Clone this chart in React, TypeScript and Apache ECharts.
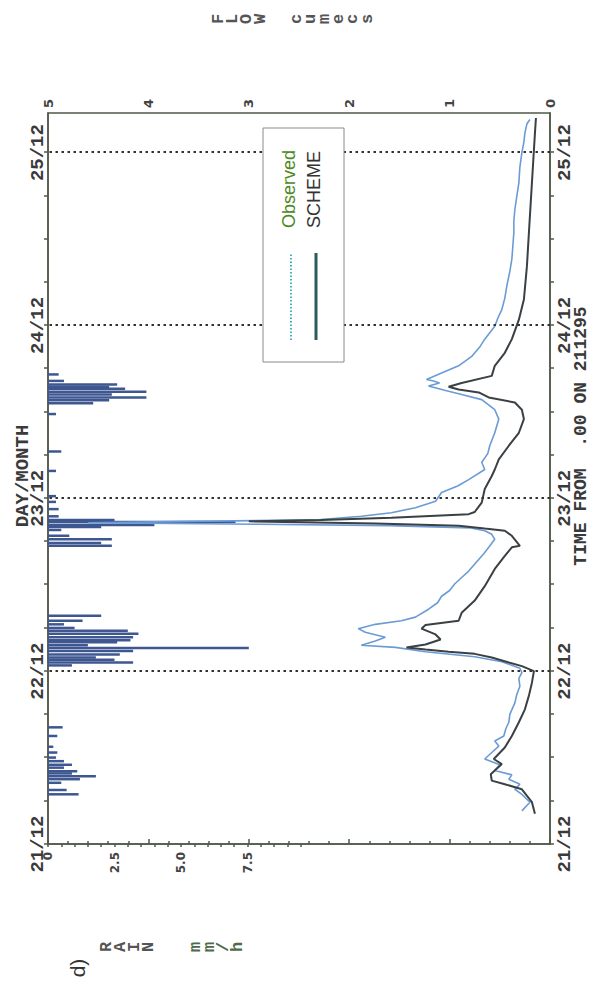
import React, { useEffect, useRef } from "react";
import * as echarts from "echarts";

// ---- data (hours after 21/12 00:00) ----
const dayLabels = ["21/12", "22/12", "23/12", "24/12", "25/12"];
const rainTickLabels = ["0", "2.5", "5.0", "7.5"];

const obsHours = [4.6, 5.8, 6.9, 7.6, 8.3, 9.0, 9.6, 10.2, 11.0, 11.8, 12.7, 13.6, 14.3, 15.0, 16.0, 16.9, 18.0, 19.6, 20.8, 21.9, 23.0, 23.8, 24.4, 25.3, 26.0, 26.7, 27.3, 27.6, 28.2, 28.7, 29.4, 29.9, 30.5, 31.0, 31.5, 32.6, 33.5, 34.4, 35.2, 36.1, 37.0, 37.9, 38.7, 39.5, 40.3, 41.2, 42.3, 43.0, 43.5, 43.9, 44.2, 44.4, 44.6, 44.8, 45.0, 45.5, 46.0, 46.7, 47.6, 48.8, 49.7, 50.6, 52.0, 53.0, 54.2, 55.3, 57.1, 59.0, 60.3, 61.7, 62.4, 63.0, 63.6, 64.0, 64.3, 64.5, 65.4, 66.4, 67.7, 69.0, 70.1, 71.9, 73.0, 74.2, 75.8, 77.5, 79.5, 81.2, 83.0, 84.9, 86.5, 88.1, 90.0, 91.8, 94.0, 96.0, 97.5, 98.7, 100.0, 100.6];
const obsFlow = [0.28, 0.20, 0.28, 0.35, 0.30, 0.41, 0.38, 0.55, 0.50, 0.65, 0.58, 0.51, 0.55, 0.46, 0.44, 0.41, 0.40, 0.35, 0.33, 0.30, 0.31, 0.28, 0.30, 0.48, 0.75, 1.24, 1.54, 1.88, 1.74, 1.64, 1.84, 1.91, 1.74, 1.48, 1.34, 1.21, 1.12, 1.08, 1.00, 0.95, 0.88, 0.81, 0.76, 0.71, 0.66, 0.61, 0.55, 0.58, 0.65, 0.80, 1.6, 2.9, 4.6, 3.6, 2.31, 1.88, 1.58, 1.34, 1.14, 1.08, 0.92, 0.81, 0.65, 0.68, 0.62, 0.60, 0.55, 0.51, 0.55, 0.68, 0.88, 1.05, 1.21, 1.10, 1.16, 1.23, 1.08, 0.91, 0.78, 0.70, 0.65, 0.55, 0.52, 0.48, 0.45, 0.43, 0.40, 0.38, 0.37, 0.36, 0.36, 0.35, 0.33, 0.31, 0.30, 0.28, 0.26, 0.25, 0.23, 0.20];

const schemeHours = [4.2, 5.8, 7.6, 8.3, 8.8, 9.7, 11.1, 11.8, 13.4, 15.0, 16.9, 18.7, 20.6, 22.4, 24.0, 24.7, 25.2, 25.9, 26.4, 26.7, 27.0, 27.3, 27.7, 28.4, 29.1, 29.9, 30.4, 31.0, 32.1, 33.8, 35.8, 38.2, 40.0, 41.2, 41.4, 42.8, 43.5, 43.8, 44.2, 44.5, 44.8, 45.0, 45.3, 45.8, 46.1, 47.4, 49.3, 51.1, 52.0, 53.4, 55.3, 57.1, 59.0, 60.3, 61.3, 62.0, 62.7, 63.1, 63.5, 64.0, 65.0, 66.4, 68.2, 70.1, 72.8, 75.6, 80.2, 84.9, 89.5, 94.1, 98.7, 100.8];
const schemeFlow = [0.15, 0.18, 0.28, 0.45, 0.58, 0.59, 0.48, 0.56, 0.45, 0.38, 0.31, 0.25, 0.21, 0.18, 0.16, 0.28, 0.41, 0.58, 0.75, 1.01, 1.24, 1.43, 1.24, 1.09, 1.14, 1.28, 1.24, 0.91, 0.88, 0.75, 0.65, 0.55, 0.45, 0.38, 0.30, 0.38, 0.45, 0.65, 0.91, 1.74, 3.0, 2.28, 1.58, 0.81, 0.75, 0.68, 0.65, 0.58, 0.55, 0.51, 0.41, 0.31, 0.26, 0.28, 0.35, 0.61, 0.71, 0.91, 1.01, 0.88, 0.58, 0.55, 0.45, 0.38, 0.31, 0.26, 0.23, 0.21, 0.19, 0.17, 0.15, 0.14];

const rainHours = [6.9, 7.5, 8.5, 9.0, 9.4, 9.8, 10.1, 10.6, 11.0, 11.5, 12.0, 12.7, 13.5, 15.0, 16.2, 24.8, 25.2, 25.6, 25.9, 26.3, 26.8, 27.2, 27.6, 28.0, 28.3, 28.7, 29.2, 29.6, 30.0, 30.5, 31.0, 31.7, 41.4, 41.8, 42.3, 42.8, 43.6, 44.0, 44.3, 44.7, 45.0, 45.5, 46.5, 47.5, 48.3, 51.8, 54.5, 59.7, 61.2, 61.6, 62.0, 62.4, 62.8, 63.2, 63.5, 63.8, 64.3, 65.2];
const rainValues = [1.15, 0.7, 0.5, 1.2, 1.8, 0.9, 1.1, 0.6, 0.9, 0.6, 0.3, 0.35, 0.2, 0.35, 0.55, 0.9, 3.2, 2.5, 1.8, 2.7, 3.2, 7.55, 1.5, 2.6, 3.1, 3.2, 3.4, 3.0, 1.0, 0.6, 1.3, 2.0, 2.4, 2.0, 2.4, 0.8, 0.5, 2.0, 4.0, 7.05, 2.5, 0.4, 0.4, 0.3, 0.3, 0.3, 0.5, 0.3, 1.7, 2.3, 3.7, 2.4, 3.7, 2.9, 2.3, 2.6, 0.6, 0.4];

const dayLines = [24, 48, 72, 96];

const BOX = "#4f5848";
const MONO = "Liberation Mono";

export default function App() {
  const ref = useRef<HTMLDivElement>(null);
  useEffect(() => {
    if (!ref.current) return;
    const chart = echarts.init(ref.current, undefined, { renderer: "svg" });
    const dateFmt = (v: number) => {
      if (Math.abs(v % 24) < 1e-6 && v / 24 < dayLabels.length) return dayLabels[v / 24];
      return "";
    };
    const timeAxisBase = {
      type: "value" as const,
      gridIndex: 0,
      min: 0,
      max: 101.5,
      interval: 6,
      axisLine: { show: true, lineStyle: { color: BOX, width: 1.5 } },
      axisTick: { show: true, length: 4, lineStyle: { color: BOX, width: 1.5 } },
      splitLine: { show: false },
    };
    const stack = { fontFamily: MONO, fontWeight: "bold", fontSize: 17, fill: "#555", align: "center", verticalAlign: "top" };
    const option: any = {
      animation: false,
      backgroundColor: "#ffffff",
      grid: [
        { left: 137, right: 113, top: 48, bottom: 41, show: true, borderColor: BOX, borderWidth: 1.5, backgroundColor: "transparent" },
        { left: 137, right: 113, top: 48, height: 252.7, show: false },
      ],
      xAxis: [
        {
          ...timeAxisBase,
          position: "bottom",
          axisLabel: { margin: 5, fontFamily: MONO, fontWeight: "bold", fontSize: 19, color: "#3a3a3a", formatter: dateFmt, showMaxLabel: false },
        },
        {
          ...timeAxisBase,
          position: "top",
          axisLabel: { margin: 1, fontFamily: MONO, fontWeight: "bold", fontSize: 19, color: "#3a3a3a", formatter: dateFmt, showMaxLabel: false },
        },
        { type: "value", gridIndex: 1, min: 0, max: 101.5, show: false },
      ],
      yAxis: [
        {
          type: "value",
          gridIndex: 0,
          position: "right",
          min: 0,
          max: 5,
          interval: 1,
          axisLine: { show: true, lineStyle: { color: BOX, width: 1.5 } },
          axisTick: { show: true, length: 5, lineStyle: { color: BOX, width: 1.5 } },
          minorTick: { show: true, splitNumber: 5, length: 3, lineStyle: { color: BOX, width: 1.5 } },
          axisLabel: { margin: 5, fontFamily: "DejaVu Sans", fontWeight: "bold", fontSize: 13, color: "#444" },
          splitLine: { show: false },
          minorSplitLine: { show: false },
        },
        {
          type: "value",
          gridIndex: 1,
          position: "left",
          inverse: true,
          min: 0,
          max: 9.5,
          interval: 0.5,
          axisLine: { show: false },
          axisTick: { show: true, length: 3, lineStyle: { color: BOX, width: 1.5 } },
          axisLabel: {
            margin: 8,
            fontFamily: "DejaVu Sans",
            fontWeight: "bold",
            fontSize: 12,
            color: "#444",
            formatter: (v: number) => {
              const i = Math.round(v / 2.5);
              if (Math.abs(v - i * 2.5) < 1e-6 && i < rainTickLabels.length) return rainTickLabels[i];
              return "";
            },
          },
          splitLine: { show: false },
        },
      ],
      series: [
        {
          name: "Rain",
          type: "bar",
          xAxisIndex: 2,
          yAxisIndex: 1,
          barWidth: 2.5,
          itemStyle: { color: "#3e5791" },
          data: rainHours.map((h, i) => [h, rainValues[i]]),
        },
        {
          name: "Observed",
          type: "line",
          xAxisIndex: 0,
          yAxisIndex: 0,
          showSymbol: false,
          lineStyle: { color: "#6b9bd4", width: 1.6 },
          data: obsHours.map((h, i) => [h, obsFlow[i]]),
          markLine: {
            silent: true,
            symbol: "none",
            label: { show: false },
            lineStyle: { color: "#333", width: 2, type: [2.5, 3.5] },
            data: dayLines.map((d) => ({ xAxis: d })),
          },
        },
        {
          name: "SCHEME",
          type: "line",
          xAxisIndex: 0,
          yAxisIndex: 0,
          showSymbol: false,
          lineStyle: { color: "#3a4044", width: 2 },
          data: schemeHours.map((h, i) => [h, schemeFlow[i]]),
        },
      ],
      graphic: [
        { type: "text", x: 505, y: 23, style: { text: "DAY/MONTH", fontFamily: MONO, fontWeight: "bold", fontSize: 19, fill: "#3a3a3a", align: "center", verticalAlign: "middle" } },
        { type: "text", x: 545, y: 581, style: { text: "TIME FROM  .00 ON 211295", fontFamily: MONO, fontWeight: "bold", fontSize: 18, fill: "#3a3a3a", align: "center", verticalAlign: "middle" } },
        { type: "text", x: 962, y: 211, style: { ...stack, text: "F\nL\nO\nW", lineHeight: 14 } },
        { type: "text", x: 962, y: 289, style: { ...stack, text: "c\nu\nm\ne\nc\ns", lineHeight: 14.2 } },
        { type: "text", x: 34, y: 100, style: { ...stack, text: "R\nA\nI\nN", lineHeight: 13.8 } },
        { type: "text", x: 34, y: 189, style: { ...stack, text: "m\nm\n/\nh", lineHeight: 13.8, fill: "#4e6a48" } },
        { type: "text", x: 13, y: 77, style: { text: "d)", fontFamily: "Liberation Sans", fontSize: 21, fill: "#333", align: "center", verticalAlign: "middle" } },
        { type: "rect", shape: { x: 619, y: 263, width: 234, height: 81 }, style: { fill: "#ffffff", stroke: "#8a8a8a", lineWidth: 1 }, z: 10 },
        { type: "line", shape: { x1: 641, y1: 291, x2: 728, y2: 291 }, style: { stroke: "#3bb4c4", lineWidth: 2, lineDash: [1.5, 2] }, z: 11 },
        { type: "line", shape: { x1: 641, y1: 316, x2: 728, y2: 316 }, style: { stroke: "#2f5a5a", lineWidth: 3 }, z: 11 },
        { type: "text", x: 753, y: 289, style: { text: "Observed", fontFamily: "Liberation Sans", fontSize: 18, fill: "#4d8a1e", verticalAlign: "middle" }, z: 11 },
        { type: "text", x: 753, y: 314, style: { text: "SCHEME", fontFamily: "Liberation Sans", fontSize: 18, fill: "#333", verticalAlign: "middle" }, z: 11 },
      ],
    };
    chart.setOption(option);
    return () => chart.dispose();
  }, []);

  return (
    <div style={{ position: "absolute", left: 0, top: 0, width: 591, height: 981, overflow: "hidden", background: "#fff" }}>
      <div
        ref={ref}
        style={{
          position: "absolute",
          left: 0,
          top: 0,
          width: 981,
          height: 591,
          transformOrigin: "0 0",
          transform: "translate(0px, 981px) rotate(-90deg)",
        }}
      />
    </div>
  );
}
